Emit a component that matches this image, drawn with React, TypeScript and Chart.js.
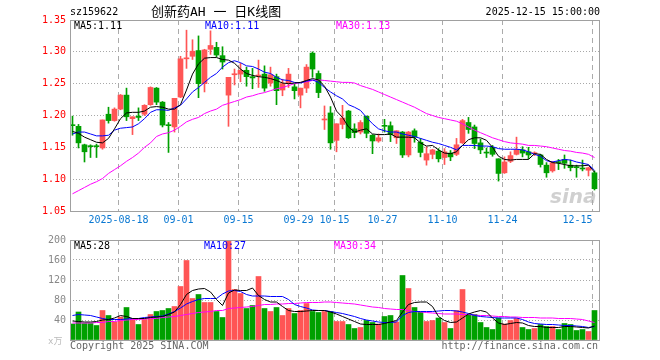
import React, { useEffect, useRef } from 'react';
import { Chart, registerables } from 'chart.js';

Chart.register(...registerables);

const dates = [
  '2025-08-06','2025-08-07','2025-08-08','2025-08-11','2025-08-12','2025-08-13','2025-08-14','2025-08-15','2025-08-18','2025-08-19',
  '2025-08-20','2025-08-21','2025-08-22','2025-08-25','2025-08-26','2025-08-27','2025-08-28','2025-08-29','2025-09-01','2025-09-02',
  '2025-09-03','2025-09-04','2025-09-05','2025-09-08','2025-09-09','2025-09-10','2025-09-11','2025-09-12','2025-09-15','2025-09-16',
  '2025-09-17','2025-09-18','2025-09-19','2025-09-22','2025-09-23','2025-09-24','2025-09-25','2025-09-26','2025-09-29','2025-09-30',
  '2025-10-09','2025-10-10','2025-10-13','2025-10-14','2025-10-15','2025-10-16','2025-10-17','2025-10-20','2025-10-21','2025-10-22',
  '2025-10-23','2025-10-24','2025-10-27','2025-10-28','2025-10-29','2025-10-30','2025-10-31','2025-11-03','2025-11-04','2025-11-05',
  '2025-11-06','2025-11-07','2025-11-10','2025-11-11','2025-11-12','2025-11-13','2025-11-14','2025-11-17','2025-11-18','2025-11-19',
  '2025-11-20','2025-11-21','2025-11-24','2025-11-25','2025-11-26','2025-11-27','2025-11-28','2025-12-01','2025-12-02','2025-12-03',
  '2025-12-04','2025-12-05','2025-12-08','2025-12-09','2025-12-10','2025-12-11','2025-12-12','2025-12-15',
];

const openP = [
  1.185,1.183,1.154,1.152,1.152,1.149,1.202,1.192,1.210,1.232,
  1.195,1.199,1.202,1.217,1.243,1.221,1.185,1.182,1.229,1.289,
  1.293,1.302,1.250,1.304,1.307,1.294,1.232,1.264,1.265,1.271,
  1.261,1.262,1.265,1.251,1.261,1.240,1.251,1.245,1.232,1.243,
  1.298,1.266,1.193,1.204,1.161,1.186,1.207,1.179,1.174,1.199,
  1.169,1.160,1.184,1.184,1.165,1.174,1.138,1.176,1.158,1.130,
  1.139,1.144,1.134,1.141,1.139,1.157,1.189,1.182,1.157,1.142,
  1.150,1.132,1.110,1.128,1.139,1.146,1.143,1.140,1.138,1.122,
  1.113,1.127,1.131,1.122,1.119,1.117,1.114,1.110,
];
const highP = [
  1.199,1.186,1.155,1.154,1.155,1.193,1.213,1.212,1.233,1.243,
  1.198,1.212,1.217,1.245,1.244,1.222,1.189,1.227,1.293,1.334,
  1.319,1.325,1.304,1.333,1.315,1.308,1.260,1.273,1.282,1.276,
  1.274,1.287,1.278,1.276,1.265,1.257,1.274,1.249,1.243,1.280,
  1.300,1.270,1.215,1.214,1.187,1.216,1.208,1.187,1.192,1.199,
  1.170,1.171,1.194,1.190,1.176,1.175,1.175,1.179,1.164,1.151,
  1.147,1.148,1.148,1.145,1.164,1.194,1.197,1.185,1.163,1.149,
  1.153,1.132,1.135,1.143,1.166,1.151,1.150,1.143,1.139,1.126,
  1.128,1.131,1.138,1.130,1.122,1.130,1.119,1.113,
];
const lowP = [
  1.169,1.149,1.127,1.134,1.134,1.147,1.188,1.191,1.209,1.192,
  1.170,1.192,1.200,1.216,1.217,1.182,1.142,1.174,1.228,1.274,
  1.288,1.228,1.237,1.296,1.292,1.273,1.183,1.248,1.253,1.246,
  1.242,1.244,1.238,1.246,1.217,1.231,1.244,1.226,1.212,1.236,
  1.260,1.228,1.178,1.147,1.143,1.179,1.164,1.165,1.171,1.165,
  1.140,1.158,1.174,1.159,1.156,1.134,1.135,1.158,1.135,1.122,
  1.132,1.127,1.123,1.129,1.137,1.156,1.172,1.148,1.140,1.134,
  1.136,1.097,1.109,1.126,1.138,1.135,1.132,1.137,1.119,1.103,
  1.111,1.115,1.117,1.113,1.103,1.113,1.105,1.083,
];
const closeP = [
  1.184,1.157,1.143,1.151,1.151,1.193,1.192,1.210,1.232,1.198,
  1.198,1.197,1.216,1.244,1.221,1.185,1.184,1.227,1.289,1.290,
  1.301,1.250,1.303,1.310,1.295,1.284,1.260,1.265,1.271,1.261,
  1.259,1.263,1.243,1.264,1.239,1.250,1.265,1.239,1.243,1.276,
  1.273,1.236,1.194,1.157,1.187,1.196,1.165,1.173,1.189,1.172,
  1.160,1.165,1.183,1.170,1.176,1.138,1.174,1.166,1.142,1.140,
  1.146,1.132,1.143,1.135,1.154,1.192,1.178,1.156,1.146,1.141,
  1.139,1.109,1.127,1.137,1.146,1.141,1.138,1.141,1.123,1.110,
  1.126,1.126,1.125,1.118,1.118,1.116,1.118,1.085,
];

const ma5 = [
  1.175,1.172,1.166,1.162,1.158,1.157,1.164,1.179,1.195,1.204,
  1.205,1.205,1.207,1.213,1.214,1.213,1.210,1.210,1.217,1.240,
  1.265,1.281,1.290,1.291,1.291,1.288,1.287,1.282,1.273,1.266,
  1.263,1.261,1.260,1.258,1.255,1.251,1.250,1.251,1.252,1.255,
  1.258,1.256,1.246,1.229,1.207,1.197,1.182,1.174,1.177,1.179,
  1.171,1.170,1.170,1.171,1.166,1.166,1.166,1.165,1.157,1.152,
  1.153,1.146,1.141,1.140,1.143,1.153,1.162,1.165,1.165,1.161,
  1.150,1.136,1.131,1.130,1.131,1.131,1.131,1.140,1.139,1.131,
  1.126,1.125,1.123,1.121,1.121,1.121,1.122,1.111,
];
const ma10 = [
  1.171,1.174,1.174,1.171,1.168,1.168,1.169,1.177,1.180,1.181,
  1.182,1.187,1.195,1.205,1.209,1.209,1.208,1.212,1.216,1.226,
  1.237,1.244,1.252,1.260,1.266,1.276,1.283,1.286,1.283,1.278,
  1.277,1.273,1.268,1.266,1.260,1.256,1.255,1.252,1.251,1.254,
  1.256,1.252,1.244,1.237,1.231,1.226,1.217,1.213,1.208,1.197,
  1.187,1.179,1.176,1.174,1.174,1.171,1.169,1.167,1.164,1.161,
  1.158,1.156,1.153,1.150,1.146,1.153,1.153,1.153,1.152,1.152,
  1.151,1.148,1.147,1.147,1.147,1.146,1.143,1.139,1.136,1.129,
  1.127,1.129,1.131,1.130,1.127,1.125,1.123,1.114,
];
const ma30 = [
  1.077,1.082,1.087,1.092,1.096,1.101,1.109,1.115,1.121,1.128,
  1.134,1.141,1.150,1.157,1.167,1.171,1.173,1.177,1.183,1.190,
  1.194,1.197,1.203,1.207,1.210,1.216,1.219,1.222,1.225,1.229,
  1.231,1.234,1.236,1.239,1.242,1.244,1.247,1.250,1.252,1.253,
  1.255,1.256,1.255,1.254,1.253,1.252,1.252,1.251,1.247,1.244,
  1.241,1.237,1.233,1.229,1.225,1.221,1.217,1.213,1.208,1.203,
  1.200,1.197,1.195,1.193,1.191,1.187,1.182,1.177,1.173,1.169,
  1.165,1.162,1.159,1.157,1.156,1.155,1.153,1.153,1.152,1.151,
  1.149,1.147,1.145,1.144,1.142,1.141,1.139,1.134,
];

const volume = [
  32,56,33,33,29,59,49,36,46,65,
  43,31,41,51,57,59,63,67,107,159,
  83,91,75,75,57,45,200,101,93,63,
  69,127,63,57,65,49,63,53,59,73,
  57,55,57,57,37,37,31,23,25,39,
  35,32,47,49,36,129,103,65,56,37,
  39,44,35,23,59,101,51,51,35,25,
  21,44,32,39,43,25,21,23,31,27,
  27,21,33,31,19,21,17,59,
];
const volMa5 = [
  38,37,36,36,37,40,41,44,49,47,
  43,43,43,45,46,47,51,56,71,91,
  99,102,103,96,81,69,94,100,99,99,
  104,89,81,76,76,67,59,57,57,58,
  59,59,59,56,52,47,42,37,32,31,
  31,31,33,36,39,56,71,75,76,76,
  67,47,39,35,36,44,52,56,59,56,
  44,34,31,33,35,34,29,27,27,25,
  25,25,27,27,26,25,24,28,
];
const volMa10 = [
  49,51,50,49,46,43,41,41,41,42,
  43,43,45,46,47,48,52,57,64,72,
  77,81,83,83,83,92,98,99,97,91,
  88,88,88,87,87,87,81,71,67,64,
  60,59,59,57,55,53,50,47,43,40,
  38,36,35,35,36,49,55,57,57,57,
  57,58,59,59,58,56,53,49,47,46,
  45,44,44,44,44,41,36,33,32,31,
  31,30,29,29,28,27,25,27,
];
const volMa30 = [
  34,34,34,34,35,35,37,37,39,40,
  41,41,42,43,43,45,46,47,49,51,
  53,55,56,57,59,59,63,64,65,66,
  67,69,71,71,72,72,73,73,74,75,
  75,75,76,76,75,74,73,72,70,68,
  66,65,63,62,61,61,59,57,56,55,
  54,53,52,52,52,51,51,50,49,49,
  48,47,47,46,46,45,45,45,44,44,
  44,43,43,43,42,41,38,35,
];

const priceTicks = [1.05, 1.1, 1.15, 1.2, 1.25, 1.3, 1.35];
const volTicks = [0, 40, 80, 120, 160, 200];
const xTickDates = ['2025-08-18','2025-09-01','2025-09-15','2025-09-29','2025-10-15','2025-10-27','2025-11-10','2025-11-24','2025-12-15'];
const xTickLabels = ['2025-08-18','09-01','09-15','09-29','10-15','10-27','11-10','11-24','12-15'];

const MONO = '"DejaVu Sans Mono", monospace';
const UP = '#ff5555';
const DOWN = '#00a000';
const X_MIN = -5 / 12;
const X_MAX = X_MIN + 530 / 6;

const candleColor = (i: number) => (closeP[i] >= openP[i] ? UP : DOWN);

const framePlugin = {
  id: 'frame',
  afterDraw(chart: any) {
    const { ctx, chartArea: a } = chart;
    ctx.save();
    ctx.strokeStyle = '#a0a0a0';
    ctx.lineWidth = 1;
    ctx.strokeRect(Math.round(a.left) + 0.5, Math.round(a.top) + 0.5, Math.round(a.right - a.left) - 1, Math.round(a.bottom - a.top));
    ctx.restore();
  },
};

function xScale(showLabels: boolean, h: number) {
  const tickVals = xTickDates.map((d) => dates.indexOf(d) - 1 / 3);
  return {
    type: 'linear',
    min: X_MIN,
    max: X_MAX,
    offset: false,
    afterBuildTicks: (s: any) => {
      s.ticks = tickVals.map((v) => ({ value: v }));
    },
    afterFit: (s: any) => {
      s.height = h;
    },
    ticks: {
      display: showLabels,
      autoSkip: false,
      maxRotation: 0,
      minRotation: 0,
      padding: 3,
      color: '#0a78d2',
      font: { family: MONO, size: 10 },
      callback: (_v: any, i: number) => (i === xTickLabels.length - 1 ? xTickLabels[i] + '     ' : xTickLabels[i]),
    },
    grid: { color: '#ababab', drawTicks: false, offset: false, lineWidth: 1 },
    border: { display: false, dash: [5, 4] },
  };
}

const line = (label: string, values: number[], color: string) => ({
  type: 'line',
  label,
  data: values.map((y, i) => ({ x: i, y })),
  borderColor: color,
  borderWidth: 1,
  pointRadius: 0,
  tension: 0,
  order: 0,
});

const T = ({ x, y, c, s, children, right, family }: any) => (
  <span
    style={{
      position: 'absolute',
      left: right ? undefined : x,
      right: right ? 660 - x : undefined,
      top: y,
      color: c || '#000',
      font: `${s || 10}px ${family || MONO}`,
      lineHeight: `${s || 10}px`,
      whiteSpace: 'pre',
    }}
  >
    {children}
  </span>
);

export default function App() {
  const mainRef = useRef<HTMLCanvasElement>(null);
  const volRef = useRef<HTMLCanvasElement>(null);

  useEffect(() => {
    const idx = dates.map((_, i) => i);
    const main = new Chart(mainRef.current as HTMLCanvasElement, {
      type: 'bar',
      data: {
        datasets: [
          line('MA5', ma5, '#000000'),
          line('MA10', ma10, '#0000ff'),
          line('MA30', ma30, '#ff00ff'),
          {
            type: 'bar',
            label: 'body',
            data: idx.map((i) => ({ x: i, y: [openP[i], closeP[i]] })),
            backgroundColor: (c: any) => candleColor(c.dataIndex),
            barThickness: 5,
            grouped: false,
            minBarLength: 1,
            order: 1,
          },
          {
            type: 'bar',
            label: 'wick',
            data: idx.map((i) => ({ x: i, y: [lowP[i], highP[i]] })),
            backgroundColor: (c: any) => candleColor(c.dataIndex),
            barThickness: 1,
            grouped: false,
            order: 2,
          },
        ],
      } as any,
      options: {
        responsive: false,
        animation: false,
        events: [],
        layout: { padding: { left: 0, right: 60, top: 20, bottom: 0 }, autoPadding: false },
        plugins: { legend: { display: false }, tooltip: { enabled: false } },
        scales: {
          x: xScale(true, 21),
          y: {
            min: 1.05,
            max: 1.35,
            afterBuildTicks: (s: any) => {
              s.ticks = priceTicks.map((v) => ({ value: v }));
            },
            afterFit: (s: any) => {
              s.width = 70;
            },
            ticks: {
              color: '#ff0000',
              padding: 4,
              font: { family: MONO, size: 10 },
              callback: (v: any) => Number(v).toFixed(2),
            },
            grid: {
              drawTicks: false,
              color: (c: any) => (c.tick && (c.tick.value === 1.05 || c.tick.value === 1.35) ? 'rgba(0,0,0,0)' : '#a8a8a8'),
            },
            border: { display: false, dash: [1, 2] },
          },
        },
      } as any,
      plugins: [framePlugin],
    });

    const vol = new Chart(volRef.current as HTMLCanvasElement, {
      type: 'bar',
      data: {
        datasets: [
          line('MA5', volMa5, '#000000'),
          line('MA10', volMa10, '#0000ff'),
          line('MA30', volMa30, '#ff00ff'),
          {
            type: 'bar',
            label: 'vol',
            data: idx.map((i) => ({ x: i, y: volume[i] })),
            backgroundColor: (c: any) => candleColor(c.dataIndex),
            barThickness: 5,
            grouped: false,
            order: 1,
          },
        ],
      } as any,
      options: {
        responsive: false,
        animation: false,
        events: [],
        layout: { padding: { left: 0, right: 60, top: 10, bottom: 0 }, autoPadding: false },
        plugins: { legend: { display: false }, tooltip: { enabled: false } },
        scales: {
          x: xScale(false, 20),
          y: {
            min: 0,
            max: 200,
            afterBuildTicks: (s: any) => {
              s.ticks = volTicks.map((v) => ({ value: v }));
            },
            afterFit: (s: any) => {
              s.width = 70;
            },
            ticks: {
              color: '#888888',
              padding: 4,
              font: { family: MONO, size: 10 },
              callback: (v: any) => (Number(v) === 0 ? '' : String(v)),
            },
            grid: {
              drawTicks: false,
              color: (c: any) => (c.tick && (c.tick.value === 0 || c.tick.value === 200) ? 'rgba(0,0,0,0)' : '#a8a8a8'),
            },
            border: { display: false, dash: [1, 2] },
          },
        },
      } as any,
      plugins: [framePlugin],
    });

    return () => {
      main.destroy();
      vol.destroy();
    };
  }, []);

  return (
    <div style={{ position: 'absolute', left: 0, top: 0, width: 660, height: 360, background: '#fff', overflow: 'hidden' }}>
      <canvas ref={mainRef} width={660} height={232} style={{ position: 'absolute', left: 0, top: 0, width: 660, height: 232 }} />
      <canvas ref={volRef} width={660} height={130} style={{ position: 'absolute', left: 0, top: 230, width: 660, height: 130 }} />

      <T x={70} y={7}>sz159622</T>
      <T x={151} y={5} s={13} family={'"DejaVu Sans Mono", "Noto Sans CJK SC", monospace'}>创新药AH 一 日K线图</T>
      <T x={600} y={7} right>2025-12-15 15:00:00</T>

      <T x={74} y={21}>MA5:1.11</T>
      <T x={205} y={21} c="#0000ff">MA10:1.11</T>
      <T x={336} y={21} c="#ff00ff">MA30:1.13</T>

      <T x={74} y={241}>MA5:28</T>
      <T x={204} y={241} c="#0000ff">MA10:27</T>
      <T x={334} y={241} c="#ff00ff">MA30:34</T>

      <T x={48} y={337} s={9} c="#bbbbbb" family={'"DejaVu Sans Mono", "Noto Sans CJK SC", monospace'}>x万</T>

      <T x={70} y={341} c="#666666">Copyright 2025 SINA.COM</T>
      <T x={598} y={341} c="#666666" right>http://finance.sina.com.cn</T>

      <span
        style={{
          position: 'absolute',
          left: 550,
          top: 186,
          font: 'italic bold 20px "DejaVu Sans", sans-serif',
          color: 'rgba(170,170,170,0.55)',
          lineHeight: '20px',
        }}
      >
        sina
      </span>
    </div>
  );
}
